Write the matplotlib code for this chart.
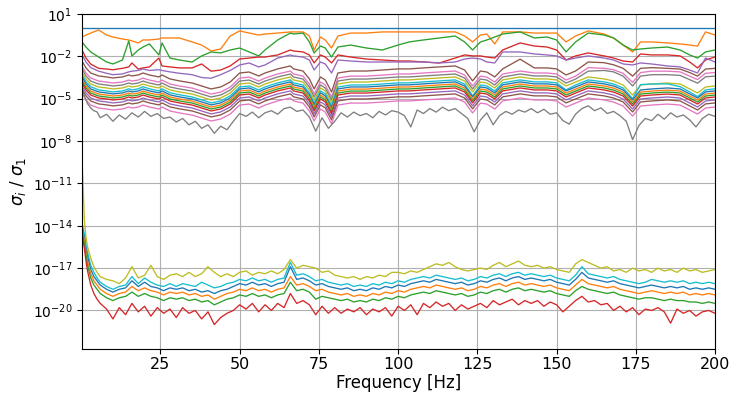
import numpy as np
import matplotlib
matplotlib.use("Agg")
import matplotlib.pyplot as plt
from matplotlib.ticker import NullLocator

# Frequency grids [Hz]
F_TOP = [0.25, 1.5, 3, 5.5, 8, 10, 13, 15, 16, 18,
         19.5, 21.5, 24.5, 25.5, 28, 31, 35, 38, 41, 44,
         47, 50, 53, 56, 58, 62, 66, 67, 70, 72,
         73.5, 75.5, 77, 79, 81, 85, 90, 95, 100, 103.5,
         108, 113, 118, 121, 123.5, 126, 128, 130.5, 133, 138.5,
         143, 147, 150, 153, 156, 160, 165, 168, 171, 174,
         176.5, 180, 185, 189, 192, 194.5, 197, 200]
F_LOW = [0.25, 1, 1.5, 2, 3, 4, 5] + list(range(6, 201, 2))

# log10(sigma_i / sigma_1)
s01 = [0.0] * 68
s02 = [-0.63, -0.49, -0.35, -0.13, -0.49, -0.63, -0.77, -0.84, -0.91, -1.05,
       -0.84, -0.84, -0.77, -0.70, -0.70, -0.70, -0.98, -1.20, -1.62, -1.48,
       -0.56, -0.20, -0.35, -0.49, -0.42, -0.35, -0.27, -0.27, -0.27, -0.56,
       -1.55, -0.63, -0.84, -1.41, -0.56, -0.35, -0.35, -0.27, -0.27, -0.27,
       -0.27, -0.27, -0.27, -0.56, -0.98, -0.49, -0.42, -1.12, -0.27, -0.27,
       -0.35, -0.35, -0.35, -0.98, -0.56, -0.20, -0.42, -0.70, -1.20, -1.69,
       -0.98, -0.98, -1.05, -1.12, -1.20, -1.27, -0.27, -0.49]
s03 = [-0.98, -1.34, -1.69, -2.05, -2.40, -2.54, -2.26, -0.91, -1.97, -1.55,
       -1.34, -1.12, -1.90, -1.05, -2.12, -2.26, -2.40, -1.97, -1.69, -1.76,
       -1.55, -1.41, -1.69, -1.97, -1.55, -0.84, -0.35, -0.42, -0.35, -0.98,
       -1.76, -1.27, -1.41, -2.05, -1.34, -1.20, -1.41, -1.55, -1.20, -0.98,
       -0.84, -0.70, -0.56, -0.98, -1.55, -0.98, -0.84, -0.63, -0.42, -0.27,
       -0.70, -0.63, -0.84, -1.69, -0.98, -0.35, -0.49, -0.70, -1.20, -1.55,
       -1.48, -1.41, -1.34, -1.55, -1.90, -2.12, -1.69, -1.55]
s04 = [-1.55, -2.12, -2.55, -2.85, -2.90, -2.95, -2.85, -2.75, -2.47, -2.90,
       -2.82, -2.75, -2.12, -2.68, -2.75, -2.82, -2.82, -2.54, -3.05, -2.97,
       -2.68, -2.19, -2.12, -2.05, -2.05, -1.90, -1.55, -1.62, -1.69, -1.90,
       -2.47, -1.90, -2.05, -2.47, -1.90, -2.05, -2.19, -2.26, -2.33, -2.33,
       -2.40, -2.47, -2.12, -1.90, -1.97, -1.97, -2.05, -2.12, -1.55, -1.05,
       -1.27, -1.34, -1.55, -2.26, -1.97, -1.76, -1.97, -2.12, -2.33, -2.40,
       -1.83, -1.90, -1.90, -1.97, -2.40, -2.82, -2.26, -2.05]
s05 = [-1.90, -2.40, -2.80, -3.05, -3.20, -3.30, -3.25, -3.10, -3.05, -3.00,
       -2.90, -3.00, -2.95, -3.00, -3.10, -3.20, -3.30, -3.50, -3.55, -3.30,
       -3.00, -2.61, -2.47, -2.75, -2.61, -2.12, -1.90, -1.97, -2.05, -2.26,
       -2.97, -2.40, -2.54, -3.18, -2.26, -2.33, -2.40, -2.40, -2.40, -2.40,
       -2.40, -2.47, -2.40, -2.19, -2.12, -2.19, -2.40, -2.47, -1.69, -1.69,
       -1.83, -1.90, -1.97, -2.26, -2.12, -1.97, -2.12, -2.26, -2.54, -2.61,
       -2.47, -2.54, -2.68, -2.75, -2.97, -3.18, -2.12, -2.40]
s06 = [-2.33, -2.82, -3.18, -3.39, -3.46, -3.53, -3.46, -3.32, -3.39, -3.32,
       -3.18, -3.32, -3.46, -3.32, -3.60, -3.74, -3.89, -4.10, -4.31, -4.17,
       -3.82, -3.18, -3.11, -3.39, -3.18, -2.89, -2.68, -2.89, -3.04, -3.60,
       -4.31, -3.46, -3.67, -4.52, -3.18, -3.04, -3.04, -2.97, -2.89, -2.89,
       -2.82, -2.75, -2.68, -2.97, -3.74, -3.04, -3.11, -3.46, -2.89, -2.20,
       -2.82, -2.82, -2.89, -3.32, -3.04, -2.40, -2.45, -2.60, -2.85, -3.40,
       -2.85, -2.80, -2.85, -2.90, -3.15, -3.40, -2.90, -2.85]
s07 = [-2.69, -3.18, -3.54, -3.75, -3.82, -3.89, -3.82, -3.68, -3.75, -3.68,
       -3.54, -3.68, -3.82, -3.68, -3.96, -4.10, -4.25, -4.46, -4.67, -4.53,
       -4.18, -3.54, -3.47, -3.75, -3.54, -3.25, -3.04, -3.25, -3.40, -3.96,
       -4.67, -3.82, -4.03, -4.88, -3.54, -3.40, -3.40, -3.33, -3.25, -3.25,
       -3.18, -3.11, -3.04, -3.33, -4.10, -3.40, -3.47, -3.82, -3.25, -3.04,
       -3.18, -3.18, -3.25, -3.68, -3.40, -2.80, -2.85, -2.95, -3.20, -3.85,
       -3.15, -3.05, -3.05, -3.10, -3.40, -3.65, -3.20, -3.15]
s08 = [-2.90, -3.39, -3.75, -3.96, -4.03, -4.10, -4.03, -3.89, -3.96, -3.89,
       -3.75, -3.89, -4.03, -3.89, -4.17, -4.31, -4.46, -4.67, -4.88, -4.74,
       -4.39, -3.75, -3.68, -3.96, -3.75, -3.46, -3.25, -3.46, -3.61, -4.17,
       -4.88, -4.03, -4.24, -5.09, -3.75, -3.61, -3.61, -3.54, -3.46, -3.46,
       -3.39, -3.32, -3.25, -3.54, -4.31, -3.61, -3.68, -4.03, -3.46, -3.25,
       -3.39, -3.39, -3.46, -3.89, -3.61, -3.05, -3.00, -3.10, -3.40, -4.10,
       -3.40, -3.30, -3.30, -3.35, -3.65, -3.90, -3.45, -3.40]
s09 = [-3.11, -3.60, -3.96, -4.17, -4.24, -4.31, -4.24, -4.10, -4.17, -4.10,
       -3.96, -4.10, -4.24, -4.10, -4.38, -4.52, -4.67, -4.88, -5.09, -4.95,
       -4.60, -3.96, -3.89, -4.17, -3.96, -3.67, -3.46, -3.67, -3.82, -4.38,
       -5.09, -4.24, -4.45, -5.30, -3.96, -3.82, -3.82, -3.75, -3.67, -3.67,
       -3.60, -3.53, -3.46, -3.75, -4.52, -3.82, -3.89, -4.24, -3.67, -3.46,
       -3.60, -3.60, -3.67, -4.10, -3.82, -3.46, -3.60, -3.75, -4.03, -4.74,
       -4.03, -3.96, -3.89, -3.96, -4.31, -4.60, -4.17, -4.10]
s10 = [-3.30, -3.80, -4.15, -4.38, -4.45, -4.52, -4.45, -4.30, -4.38, -4.30,
       -4.15, -4.30, -4.45, -4.30, -4.58, -4.72, -4.88, -5.08, -5.30, -5.16,
       -4.80, -4.17, -4.10, -4.38, -4.17, -3.88, -3.67, -3.88, -4.03, -4.60,
       -5.30, -4.45, -4.66, -5.50, -4.17, -4.03, -4.03, -3.96, -3.88, -3.88,
       -3.81, -3.74, -3.67, -3.96, -4.80, -4.03, -4.10, -4.45, -3.88, -3.67,
       -3.81, -3.81, -3.88, -4.38, -4.03, -3.67, -3.81, -3.96, -4.24, -5.00,
       -4.00, -3.96, -3.95, -4.15, -4.52, -4.85, -4.38, -4.30]
s11 = [-3.46, -3.95, -4.31, -4.52, -4.59, -4.66, -4.59, -4.45, -4.52, -4.45,
       -4.31, -4.45, -4.59, -4.45, -4.73, -4.87, -5.02, -5.23, -5.44, -5.30,
       -4.95, -4.31, -4.24, -4.52, -4.31, -4.02, -3.81, -4.02, -4.17, -4.73,
       -5.44, -4.59, -4.80, -5.65, -4.31, -4.17, -4.17, -4.10, -4.02, -4.02,
       -3.95, -3.88, -3.81, -4.10, -4.87, -4.17, -4.24, -4.59, -4.02, -3.81,
       -3.95, -3.95, -4.02, -4.45, -4.17, -3.81, -3.95, -4.10, -4.38, -5.09,
       -4.38, -4.31, -4.24, -4.31, -4.66, -4.95, -4.52, -4.45]
s12 = [-3.61, -4.10, -4.46, -4.67, -4.74, -4.81, -4.74, -4.60, -4.67, -4.60,
       -4.46, -4.60, -4.74, -4.60, -4.88, -5.02, -5.17, -5.38, -5.59, -5.45,
       -5.10, -4.46, -4.39, -4.67, -4.46, -4.17, -3.96, -4.17, -4.32, -4.88,
       -5.59, -4.74, -4.95, -5.80, -4.46, -4.32, -4.32, -4.25, -4.17, -4.17,
       -4.10, -4.03, -3.96, -4.25, -5.02, -4.32, -4.39, -4.74, -4.17, -3.96,
       -4.10, -4.10, -4.17, -4.60, -4.32, -3.96, -4.10, -4.25, -4.53, -5.24,
       -4.53, -4.46, -4.39, -4.46, -4.81, -5.10, -4.67, -4.60]
s13 = [-3.75, -4.24, -4.60, -4.81, -4.88, -4.95, -4.88, -4.74, -4.81, -4.74,
       -4.60, -4.74, -4.88, -4.74, -5.02, -5.16, -5.31, -5.52, -5.73, -5.59,
       -5.24, -4.60, -4.53, -4.81, -4.60, -4.31, -4.10, -4.31, -4.46, -5.02,
       -5.73, -4.88, -5.09, -5.94, -4.60, -4.46, -4.46, -4.39, -4.31, -4.31,
       -4.24, -4.17, -4.10, -4.39, -5.16, -4.46, -4.53, -4.88, -4.31, -4.10,
       -4.24, -4.24, -4.31, -4.74, -4.46, -4.10, -4.24, -4.39, -4.67, -5.38,
       -4.67, -4.60, -4.53, -4.60, -4.95, -5.24, -4.81, -4.74]
s14 = [-3.89, -4.38, -4.74, -4.95, -5.02, -5.09, -5.02, -4.88, -4.95, -4.88,
       -4.74, -4.88, -5.02, -4.88, -5.16, -5.30, -5.45, -5.66, -5.87, -5.73,
       -5.38, -4.74, -4.67, -4.95, -4.74, -4.45, -4.24, -4.45, -4.60, -5.16,
       -5.87, -5.02, -5.23, -6.08, -4.74, -4.60, -4.60, -4.53, -4.45, -4.45,
       -4.38, -4.31, -4.24, -4.53, -5.30, -4.60, -4.67, -5.02, -4.45, -4.24,
       -4.38, -4.38, -4.45, -4.88, -4.60, -4.24, -4.38, -4.53, -4.81, -5.52,
       -4.81, -4.74, -4.67, -4.74, -5.09, -5.38, -4.95, -4.88]
s15 = [-4.10, -4.59, -4.95, -5.16, -5.23, -5.30, -5.23, -5.09, -5.16, -5.09,
       -4.95, -5.09, -5.23, -5.09, -5.37, -5.51, -5.66, -5.87, -6.08, -5.94,
       -5.59, -4.95, -4.88, -5.16, -4.95, -4.66, -4.45, -4.66, -4.81, -5.37,
       -6.08, -5.23, -5.44, -6.29, -4.95, -4.81, -4.81, -4.74, -4.66, -4.66,
       -4.59, -4.52, -4.45, -4.74, -5.51, -4.81, -4.88, -5.23, -4.66, -4.45,
       -4.59, -4.59, -4.66, -5.09, -4.81, -4.45, -4.59, -4.74, -5.02, -5.73,
       -5.02, -4.95, -4.88, -4.95, -5.30, -5.59, -5.16, -5.09]
s16 = [-4.31, -4.80, -5.16, -5.37, -5.44, -5.51, -5.44, -5.30, -5.37, -5.30,
       -5.16, -5.30, -5.44, -5.30, -5.58, -5.72, -5.87, -6.08, -6.29, -6.15,
       -5.80, -5.16, -5.09, -5.37, -5.16, -4.87, -4.66, -4.87, -5.02, -5.58,
       -6.29, -5.44, -5.65, -6.50, -5.16, -5.02, -5.02, -4.95, -4.87, -4.87,
       -4.80, -4.73, -4.66, -4.95, -5.72, -5.02, -5.09, -5.44, -4.87, -4.66,
       -4.80, -4.80, -4.87, -5.30, -5.02, -4.66, -4.80, -4.95, -5.23, -5.94,
       -5.23, -5.16, -5.09, -5.16, -5.51, -5.80, -5.37, -5.30]
s17 = [-4.60, -5.09, -5.45, -5.66, -5.73, -5.80, -5.73, -5.59, -5.66, -5.59,
       -5.45, -5.59, -5.73, -5.59, -5.87, -6.01, -6.16, -6.37, -6.58, -6.44,
       -6.09, -5.45, -5.38, -5.66, -5.45, -5.16, -4.95, -5.16, -5.31, -5.87,
       -6.58, -5.73, -5.94, -6.79, -5.45, -5.31, -5.31, -5.24, -5.16, -5.16,
       -5.09, -5.02, -4.95, -5.24, -6.01, -5.31, -5.38, -5.73, -5.16, -4.95,
       -5.09, -5.09, -5.16, -5.59, -5.31, -4.95, -5.09, -5.24, -5.52, -6.23,
       -5.52, -5.45, -5.38, -5.45, -5.80, -6.09, -5.66, -5.59]

# series on the grid F_LOW
s18 = [-4.38, -4.80, -5.09, -5.35, -5.66, -5.85, -5.94,
       -6.35, -6.10, -6.60, -6.15, -6.45, -6.00, -6.30, -5.90, -6.25, -6.05,
       -6.40, -6.30, -6.65, -6.40, -6.85, -6.60, -7.10, -6.85, -7.45, -6.95,
       -7.20, -6.60, -6.05, -6.25, -5.95, -6.35, -6.00, -5.85, -6.10, -5.70,
       -5.60, -5.90, -5.80, -6.30, -7.30, -6.35, -7.10, -6.60, -6.00, -6.30,
       -5.95, -6.20, -6.05, -6.35, -5.90, -6.15, -5.85, -5.95, -6.20, -7.00,
       -5.80, -6.05, -5.70, -5.95, -5.60, -5.85, -5.70, -6.05, -6.40, -7.35,
       -6.50, -6.00, -6.85, -6.20, -5.90, -6.10, -5.80, -5.95, -5.70, -6.00,
       -5.75, -6.10, -6.00, -6.55, -6.80, -6.10, -5.70, -5.50, -5.85, -5.65,
       -6.05, -5.90, -6.20, -6.60, -7.90, -6.90, -6.40, -6.55, -6.10, -6.45,
       -6.00, -6.30, -6.15, -6.50, -7.00, -6.40, -6.10, -6.25]
s19 = [-9.3, -13.6, -14.8, -15.5, -16.3, -16.9, -17.3,
       -17.6, -17.8, -17.9, -18.1, -17.7, -16.9, -17.7, -17.5, -16.8, -17.6,
       -17.8, -17.5, -17.4, -17.6, -17.3, -17.6, -17.4, -16.9, -17.3, -17.6,
       -17.4, -17.6, -17.3, -17.2, -17.5, -17.3, -17.4, -17.2, -17.4, -17.1,
       -16.4, -17.0, -16.8, -16.9, -17.0, -17.3, -17.2, -17.5, -17.6, -17.7,
       -17.6, -17.8, -17.6, -17.7, -17.5, -17.6, -17.3, -17.3, -17.4, -17.2,
       -17.3, -17.1, -16.9, -16.7, -16.8, -16.6, -16.9, -17.1, -17.2, -17.1,
       -17.0, -17.1, -16.8, -16.6, -16.9, -16.7, -16.5, -16.8, -16.9, -16.8,
       -17.0, -16.9, -17.1, -17.2, -17.3, -16.7, -16.4, -16.6, -16.8, -17.0,
       -16.9, -17.2, -17.1, -17.3, -17.0, -17.2, -17.1, -17.3, -17.0, -17.2,
       -17.1, -17.3, -17.0, -17.2, -17.1, -17.3, -17.2, -17.1]
s20 = [-13.8, -14.6, -15.4, -15.9, -16.8, -17.3, -17.7,
       -18.0, -18.3, -18.5, -18.3, -18.2, -17.6, -18.1, -17.7, -18.0, -18.2,
       -18.3, -18.1, -18.3, -18.1, -18.2, -18.3, -18.0, -18.2, -18.4, -18.3,
       -18.1, -18.0, -17.8, -17.9, -17.7, -17.9, -17.8, -18.0, -17.8, -17.7,
       -16.6, -17.5, -17.4, -17.6, -17.9, -17.8, -18.0, -18.1, -18.2, -18.1,
       -18.3, -18.2, -18.3, -18.1, -18.2, -18.0, -18.1, -17.9, -18.0, -17.8,
       -17.7, -17.6, -17.7, -17.5, -17.6, -17.7, -17.8, -17.7, -17.9, -17.8,
       -17.6, -17.7, -17.5, -17.4, -17.6, -17.4, -17.3, -17.5, -17.4, -17.5,
       -17.6, -17.5, -17.7, -17.8, -17.9, -17.5, -16.9, -17.4, -17.5, -17.6,
       -17.7, -17.6, -17.8, -17.9, -18.0, -18.1, -18.0, -17.8, -17.9, -18.0,
       -17.9, -18.0, -17.9, -18.1, -18.0, -18.1, -18.0, -18.1]
s21 = [-14.0, -14.9, -15.7, -16.2, -17.1, -17.6, -17.9,
       -18.2, -18.5, -18.7, -18.5, -18.4, -17.9, -18.3, -18.0, -18.3, -18.4,
       -18.6, -18.4, -18.5, -18.4, -18.6, -18.5, -18.7, -18.6, -18.8, -18.6,
       -18.5, -18.3, -18.1, -18.2, -18.0, -18.2, -18.1, -18.3, -18.1, -18.0,
       -16.9, -17.8, -17.7, -17.9, -18.2, -18.1, -18.3, -18.4, -18.5, -18.4,
       -18.6, -18.5, -18.6, -18.4, -18.5, -18.3, -18.4, -18.2, -18.3, -18.1,
       -18.0, -17.9, -18.0, -17.8, -17.9, -18.0, -18.1, -18.0, -18.2, -18.1,
       -17.9, -18.0, -17.8, -17.7, -17.9, -17.7, -17.6, -17.8, -17.7, -17.8,
       -17.9, -17.8, -18.0, -18.1, -18.2, -17.8, -17.3, -17.7, -17.8, -17.9,
       -18.0, -17.9, -18.1, -18.2, -18.3, -18.4, -18.3, -18.2, -18.3, -18.4,
       -18.3, -18.4, -18.3, -18.5, -18.4, -18.5, -18.4, -18.5]
s22 = [-14.2, -15.1, -15.9, -16.5, -17.4, -17.9, -18.2,
       -18.5, -18.8, -19.0, -18.8, -18.7, -18.3, -18.6, -18.4, -18.6, -18.7,
       -18.9, -18.7, -18.8, -18.7, -18.9, -18.8, -19.0, -18.9, -19.2, -19.0,
       -18.8, -18.7, -18.5, -18.6, -18.4, -18.6, -18.5, -18.7, -18.5, -18.4,
       -17.6, -18.2, -18.1, -18.3, -18.6, -18.5, -18.7, -18.8, -18.9, -18.8,
       -19.0, -18.9, -19.0, -18.8, -18.9, -18.7, -18.8, -18.6, -18.7, -18.5,
       -18.4, -18.3, -18.4, -18.2, -18.3, -18.4, -18.5, -18.4, -18.6, -18.5,
       -18.3, -18.4, -18.2, -18.1, -18.3, -18.1, -18.0, -18.2, -18.1, -18.2,
       -18.3, -18.2, -18.4, -18.5, -18.6, -18.2, -17.8, -18.1, -18.2, -18.3,
       -18.4, -18.3, -18.5, -18.6, -18.7, -18.8, -18.7, -18.6, -18.7, -18.8,
       -18.7, -18.8, -18.7, -18.9, -18.8, -18.9, -18.8, -18.9]
s23 = [-14.4, -15.3, -16.1, -16.8, -17.7, -18.2, -18.5,
       -18.8, -19.1, -19.3, -19.1, -19.0, -18.7, -19.0, -18.8, -19.0, -19.1,
       -19.3, -19.1, -19.2, -19.1, -19.3, -19.2, -19.4, -19.3, -19.6, -19.4,
       -19.2, -19.1, -18.9, -19.0, -18.8, -19.0, -18.9, -19.1, -18.9, -18.8,
       -18.0, -18.6, -18.5, -18.7, -19.2, -19.0, -19.1, -19.2, -19.3, -19.2,
       -19.4, -19.3, -19.4, -19.2, -19.3, -19.1, -19.2, -19.0, -19.1, -18.9,
       -18.8, -18.7, -18.8, -18.6, -18.7, -18.8, -18.9, -18.8, -19.0, -18.9,
       -18.7, -18.8, -18.6, -18.5, -18.7, -18.5, -18.4, -18.6, -18.5, -18.6,
       -18.7, -18.6, -18.8, -18.9, -19.0, -18.6, -18.3, -18.5, -18.6, -18.7,
       -18.8, -18.7, -18.9, -19.0, -19.1, -19.2, -19.1, -19.1, -19.2, -19.3,
       -19.2, -19.3, -19.3, -19.4, -19.4, -19.5, -19.4, -19.5]
s24 = [-14.6, -15.6, -16.5, -17.2, -18.2, -18.8, -19.2,
       -19.5, -19.9, -20.6, -19.8, -20.3, -19.5, -20.1, -19.7, -20.4, -19.8,
       -20.2, -19.9, -20.5, -19.8, -20.2, -20.0, -20.6, -20.1, -21.0, -20.5,
       -20.2, -20.0, -19.6, -19.9, -19.5, -20.1, -19.6, -20.0, -19.5, -19.8,
       -18.8, -19.5, -19.3, -19.6, -20.3, -19.7, -20.2, -19.8, -20.2, -19.9,
       -20.1, -19.8, -20.3, -19.9, -20.1, -19.8, -20.4, -19.7, -20.0, -19.6,
       -20.3, -19.5, -19.8, -19.4, -19.7, -19.5, -20.0, -19.6, -19.9, -19.7,
       -19.5, -19.8, -19.3, -19.6, -19.4, -19.2, -19.6, -19.3, -19.5, -19.3,
       -19.7, -19.4, -19.6, -20.1, -19.7, -19.3, -19.0, -19.4, -19.3, -19.6,
       -19.5, -20.0, -19.7, -20.1, -19.8, -20.3, -19.9, -20.0, -19.8, -20.1,
       -20.9, -19.9, -20.2, -20.0, -20.4, -20.1, -20.0, -20.2]

top_series = [s01, s02, s03, s04, s05, s06, s07, s08, s09, s10,
              s11, s12, s13, s14, s15, s16, s17]
low_series = [s18, s19, s20, s21, s22, s23, s24]

fig = plt.figure(figsize=(7.31, 3.94), dpi=100)
ax = fig.add_axes([0.1122, 0.1142, 0.8659, 0.8503])

for s in top_series:
    ax.plot(F_TOP, np.power(10.0, s), lw=0.95)
for s in low_series:
    ax.plot(F_LOW, np.power(10.0, s), lw=0.95)

ax.set_yscale('log')
ax.set_xlim(0.25, 200)
ax.set_ylim(10 ** -22.73, 10)
ax.set_yticks([10.0 ** k for k in range(1, -21, -3)])
ax.yaxis.set_minor_locator(NullLocator())
ax.set_xticks([25, 50, 75, 100, 125, 150, 175, 200])
ax.grid(True, color='#b0b0b0', lw=0.8)
ax.set_axisbelow(True)
ax.tick_params(axis='x', labelsize=11.5, pad=2.5)
ax.tick_params(axis='y', labelsize=10, pad=3.5)
ax.set_xlabel('Frequency [Hz]', fontsize=12, labelpad=1.5)
ax.set_ylabel(r'$\sigma_i$ / $\sigma_1$', fontsize=12, labelpad=3)

fig.savefig('out.png', dpi=100)
